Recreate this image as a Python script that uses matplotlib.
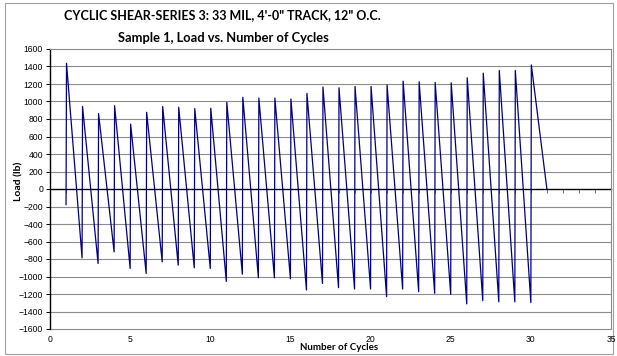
import matplotlib.pyplot as plt
from matplotlib.patches import Rectangle

# peak load at the start of each cycle (lb), cycles 1..30
peaks = [1437, 942, 862, 953, 741, 877, 942, 934, 919, 923,
         991, 1048, 1040, 1040, 1029, 1093, 1165, 1157, 1172, 1172,
         1188, 1233, 1225, 1218, 1214, 1271, 1324, 1354, 1354, 1418]
# minimum load reached at the end of each cycle (cycles 1..29), last cycle unloads to 0
troughs = [-787, -852, -719, -908, -965, -833, -871, -901, -908, -1056,
           -973, -1014, -1014, -1026, -1154, -1079, -1128, -1143, -1143, -1230,
           -1143, -1173, -1192, -1203, -1313, -1276, -1290, -1290, -1298]
start_load = -178
end_load = 0
cycles = list(range(1, 31))

# build the sawtooth trace from the cycle values
xs = [cycles[0]]
ys = [start_load]
for i, c in enumerate(cycles):
    xs.append(c + 0.03)
    ys.append(peaks[i])
    xs.append(c + 1)
    if i < len(troughs):
        ys.append(troughs[i])
    else:
        ys.append(end_load)

fig = plt.figure(figsize=(6.17, 3.56), dpi=100)
fig.patches.append(Rectangle((5 / 617, 2 / 356), 608 / 617, 351 / 356,
                             transform=fig.transFigure, fill=False, zorder=-1,
                             edgecolor='#a0a0a0', linewidth=0.8))

ax = fig.add_axes([50 / 617, 1 - 329 / 356, 561 / 617, 280 / 356])

# gridlines
for v in range(-1400, 1600, 200):
    if v != 0:
        ax.axhline(v, color='#8c8c8c', linewidth=0.8, zorder=1)

ax.plot(xs, ys, color='#000080', linewidth=0.9, zorder=3)

ax.set_xlim(0, 35)
ax.set_ylim(-1600, 1600)
ax.set_yticks(range(-1600, 1700, 200))

# x axis crosses at zero load
ax.spines['bottom'].set_position(('data', 0))
ax.spines['bottom'].set_color('black')
ax.spines['bottom'].set_linewidth(1.0)
ax.spines['bottom'].set_zorder(2)
ax.set_xticks(range(0, 36, 1))
ax.tick_params(axis='x', direction='out', length=3, width=0.7, color='#707070',
               labelbottom=False)
ax.spines['left'].set_color('black')
ax.spines['left'].set_linewidth(1.0)
ax.spines['top'].set_color('#8c8c8c')
ax.spines['right'].set_color('#8c8c8c')
ax.tick_params(axis='y', direction='out', length=3, width=0.7,
               labelsize=6.2, pad=2)
for t in ax.get_yticklabels():
    t.set_family('Liberation Sans')

# labels at the bottom of the plot area
sec = ax.secondary_xaxis('bottom')
sec.set_xticks(range(0, 40, 5))
sec.tick_params(length=0, labelsize=6.2, pad=4)
sec.spines['bottom'].set_color('#8c8c8c')
for t in sec.get_xticklabels():
    t.set_family('Liberation Sans')

fig.text(222 / 617, 1 - 15 / 356, 'CYCLIC SHEAR-SERIES 3: 33 MIL, 4\'-0" TRACK, 12" O.C.',
         ha='center', va='center', fontsize=9, fontweight='bold', family='Lato')
fig.text(223 / 617, 1 - 38.5 / 356, 'Sample 1, Load vs. Number of Cycles',
         ha='center', va='center', fontsize=9.3, fontweight='bold', family='Lato')
fig.text(339 / 617, 1 - 348 / 356, 'Number of Cycles',
         ha='center', va='center', fontsize=7, fontweight='bold', family='Lato')
fig.text(19 / 617, 1 - 181 / 356, 'Load (lb)', rotation=90,
         ha='center', va='center', fontsize=7.5, fontweight='bold', family='Lato')

fig.savefig('out.png', dpi=100)
